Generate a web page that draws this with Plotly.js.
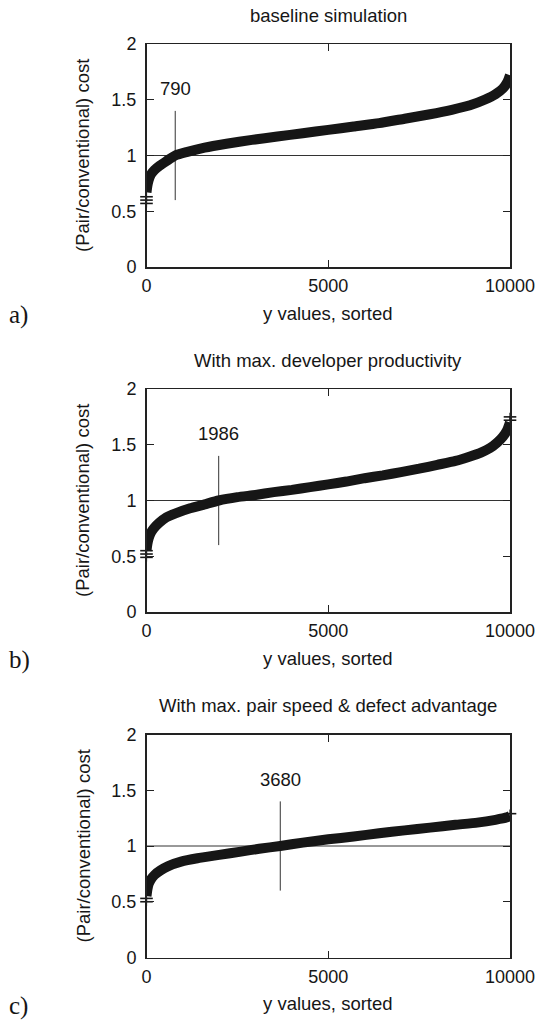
<!DOCTYPE html>
<html><head><meta charset="utf-8">
<script src="https://cdn.plot.ly/plotly-3.0.1.min.js"></script>
<style>html,body{margin:0;padding:0;background:#fff}</style>
</head><body><div id="chart" style="width:540px;height:1021px"></div>
<script>
// ---- data ----
const panelTitles = ['baseline simulation', 'With max. developer productivity', 'With max. pair speed & defect advantage'];
const panelLetters = ['a)', 'b)', 'c)'];
const xAxisTitle = 'y values, sorted';
const yAxisTitle = '(Pair/conventional) cost';
const xTickVals = [0, 5000, 10000];
const xTickText = ['0', '5000', '10000'];
const yTickVals = [0, 0.5, 1, 1.5, 2];
const yTickText = ['0', '0.5', '1', '1.5', '2'];

// sorted simulation values (rank -> cost ratio)
const rankA = [0, 25, 60, 120, 220, 370, 550, 790, 1100, 1600, 2200, 2900, 3600, 4300, 5000, 5700, 6400, 7100, 7800, 8400, 8900, 9300, 9600, 9800, 9930, 10000];
const costA = [0.67, 0.73, 0.78, 0.83, 0.87, 0.91, 0.95, 1.0, 1.03, 1.07, 1.105, 1.14, 1.17, 1.20, 1.23, 1.26, 1.29, 1.33, 1.37, 1.41, 1.45, 1.50, 1.55, 1.60, 1.66, 1.72];
const rankB = [0, 25, 60, 120, 200, 350, 550, 800, 1200, 1600, 1986, 2500, 3000, 3500, 4000, 4500, 5000, 5500, 6000, 6500, 7000, 7500, 8000, 8500, 8900, 9200, 9450, 9650, 9800, 9920, 10000];
const costB = [0.55, 0.61, 0.66, 0.71, 0.75, 0.80, 0.85, 0.885, 0.93, 0.965, 1.0, 1.03, 1.05, 1.075, 1.095, 1.12, 1.145, 1.17, 1.20, 1.225, 1.255, 1.285, 1.32, 1.355, 1.395, 1.43, 1.47, 1.52, 1.57, 1.63, 1.70];
const rankC = [0, 25, 60, 120, 220, 380, 600, 950, 1400, 2000, 2600, 3100, 3680, 4300, 5000, 5700, 6400, 7100, 7800, 8500, 9100, 9600, 9900, 10000];
const costC = [0.55, 0.61, 0.66, 0.70, 0.74, 0.78, 0.82, 0.86, 0.89, 0.92, 0.95, 0.975, 1.0, 1.03, 1.06, 1.085, 1.115, 1.14, 1.165, 1.19, 1.21, 1.235, 1.255, 1.27];

// isolated extreme points drawn as "+" markers
const outlierRankA = [0, 0, 0];
const outlierCostA = [0.57, 0.60, 0.63];
const outlierRankB = [0, 0, 0, 10000, 10000];
const outlierCostB = [0.49, 0.52, 0.55, 1.72, 1.75];
const outlierRankC = [0, 0, 10000];
const outlierCostC = [0.50, 0.53, 1.29];

// break-even rank (where cost ratio crosses 1)
const breakEvenRank = [790, 1986, 3680];
const breakEvenLabel = ['790', '1986', '3680'];
const breakEvenLow = 0.6, breakEvenHigh = 1.4, breakEvenLabelY = 1.6;
const refLevel = 1;
const xRange = [0, 10000];
const yRange = [0, 2];

// ---- layout geometry ----
const W = 540, H = 1021;
const xDom = [146.5 / W, 510 / W];
const yTopsPx = [44, 389, 734.5];
const plotHpx = 223;
const FONT = 'Liberation Sans, Arial, Helvetica, sans-serif';
const INK = '#161616';

const rankSets = [rankA, rankB, rankC];
const costSets = [costA, costB, costC];
const outR = [outlierRankA, outlierRankB, outlierRankC];
const outC = [outlierCostA, outlierCostB, outlierCostC];

const traces = [];
const layout = {
  width: W, height: H, margin: {l: 0, r: 0, t: 0, b: 0},
  paper_bgcolor: '#fff', plot_bgcolor: '#fff', showlegend: false,
  font: {family: FONT, size: 18, color: INK},
  annotations: []
};

for (let i = 0; i < 3; i++) {
  const sfx = i === 0 ? '' : String(i + 1);
  const xa = 'x' + sfx, ya = 'y' + sfx;
  const top = yTopsPx[i], bot = top + plotHpx;
  const yDom = [1 - bot / H, 1 - top / H];
  const axCommon = {
    showline: true, linecolor: '#222', linewidth: 1.5, mirror: 'ticks',
    ticks: 'inside', ticklen: 7, tickwidth: 1, tickcolor: '#222',
    showgrid: false, zeroline: false, fixedrange: true,
    tickfont: {family: FONT, size: 18, color: INK}
  };
  layout['xaxis' + sfx] = Object.assign({}, axCommon, {
    domain: xDom, range: xRange, anchor: ya, ticklabelstandoff: 2,
    tickmode: 'array', tickvals: xTickVals, ticktext: xTickText
  });
  layout['yaxis' + sfx] = Object.assign({}, axCommon, {
    domain: yDom, range: yRange, anchor: xa, ticklabelstandoff: 5,
    tickmode: 'array', tickvals: yTickVals, ticktext: yTickText
  });

  // reference line at cost ratio 1
  traces.push({x: xRange, y: [refLevel, refLevel], xaxis: xa, yaxis: ya, mode: 'lines',
    line: {color: '#333', width: 1}, hoverinfo: 'skip'});
  // break-even marker line
  traces.push({x: [breakEvenRank[i], breakEvenRank[i]], y: [breakEvenLow, breakEvenHigh], xaxis: xa, yaxis: ya,
    mode: 'lines', line: {color: '#333', width: 1}, hoverinfo: 'skip'});
  // sorted values (dense markers -> thick band)
  traces.push({x: rankSets[i], y: costSets[i], xaxis: xa, yaxis: ya, mode: 'lines',
    line: {color: INK, width: 10, shape: 'spline', smoothing: 0.5}, cliponaxis: false});
  // extreme single points
  traces.push({x: outR[i], y: outC[i], xaxis: xa, yaxis: ya, mode: 'markers', cliponaxis: false,
    marker: {symbol: 'line-ew', size: 9, line: {color: INK, width: 1.6}}});
  traces.push({x: outR[i], y: outC[i], xaxis: xa, yaxis: ya, mode: 'markers', cliponaxis: false,
    marker: {symbol: 'line-ns', size: 6, line: {color: INK, width: 1.2}}});

  // break-even label
  layout.annotations.push({xref: xa, yref: ya, x: breakEvenRank[i], y: breakEvenLabelY,
    text: breakEvenLabel[i], showarrow: false, xanchor: 'center', yanchor: 'middle',
    font: {family: FONT, size: 18.5, color: INK}});
  // panel title
  layout.annotations.push({xref: 'paper', yref: 'paper', x: (xDom[0] + xDom[1]) / 2, y: 1 - (top - 29) / H,
    text: panelTitles[i], showarrow: false, xanchor: 'center', yanchor: 'middle',
    font: {family: FONT, size: 18.5, color: INK}});
  // x axis title
  layout.annotations.push({xref: 'paper', yref: 'paper', x: (xDom[0] + xDom[1]) / 2, y: 1 - (bot + 46) / H,
    text: xAxisTitle, showarrow: false, xanchor: 'center', yanchor: 'middle',
    font: {family: FONT, size: 18.5, color: INK}});
  // y axis title
  layout.annotations.push({xref: 'paper', yref: 'paper', x: 82.5 / W, y: 1 - (top + plotHpx / 2) / H,
    text: yAxisTitle, showarrow: false, textangle: -90, xanchor: 'center', yanchor: 'middle',
    font: {family: FONT, size: 18.5, color: INK}});
  // panel letter
  layout.annotations.push({xref: 'paper', yref: 'paper', x: 7 / W, y: 1 - (bot + 48) / H,
    text: panelLetters[i], showarrow: false, xanchor: 'left', yanchor: 'middle',
    font: {family: 'Liberation Serif, Times New Roman, serif', size: 25, color: INK}});
}

Plotly.newPlot('chart', traces, layout, {staticPlot: true, displayModeBar: false});
</script></body></html>
